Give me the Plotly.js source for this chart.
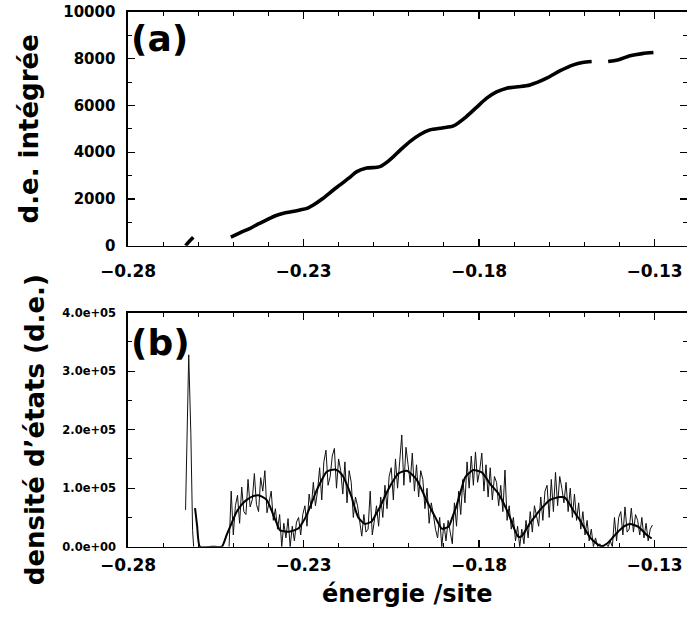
<!DOCTYPE html>
<html><head><meta charset="utf-8">
<script src="https://cdn.plot.ly/plotly-3.0.1.min.js"></script>
<style>html,body{margin:0;padding:0;background:#fff}#chart{width:687px;height:618px}</style>
</head><body><div id="chart"></div>
<script>
// (a) integrated density of states
const energyIntegrated = [-0.2636,-0.2625,-0.2614,-0.2560,-0.2507,-0.2480,-0.2452,-0.2430,-0.2405,-0.2380,-0.2357,-0.2335,-0.2310,-0.2290,-0.2272,-0.2245,-0.2215,-0.2196,-0.2170,-0.2148,-0.2120,-0.2082,-0.2054,-0.2025,-0.1997,-0.1968,-0.1940,-0.1905,-0.1873,-0.1836,-0.1807,-0.1778,-0.1750,-0.1721,-0.1690,-0.1655,-0.1607,-0.1570,-0.1531,-0.1505,-0.1479,-0.1455,-0.1432,-0.1400,-0.1370,-0.1335,-0.1303];
const integratedDos = [0,190,360,null,372,560,745,920,1100,1280,1387,1450,1530,1600,1743,2020,2385,2600,2900,3170,3320,3383,3670,4080,4454,4760,4955,5040,5126,5525,5920,6313,6580,6741,6800,6880,7170,7480,7739,7840,7880,null,7880,7970,8124,8220,8266];

// (b) density of states, smoothed curve
const energySmooth = [-0.2609,-0.2603,-0.2595,-0.2560,-0.2533,-0.2519,-0.2505,-0.2490,-0.2476,-0.2462,-0.2445,-0.2429,-0.2417,-0.2405,-0.2395,-0.2386,-0.2376,-0.2367,-0.2352,-0.2338,-0.2315,-0.2303,-0.2291,-0.2276,-0.2262,-0.2248,-0.2234,-0.2222,-0.2210,-0.2198,-0.2187,-0.2175,-0.2163,-0.2144,-0.2125,-0.2106,-0.2094,-0.2082,-0.2068,-0.2054,-0.2042,-0.2030,-0.2006,-0.1992,-0.1978,-0.1966,-0.1954,-0.1940,-0.1925,-0.1906,-0.1887,-0.1876,-0.1864,-0.1852,-0.1840,-0.1828,-0.1816,-0.1792,-0.1769,-0.1745,-0.1733,-0.1721,-0.1711,-0.1702,-0.1688,-0.1678,-0.1667,-0.1655,-0.1640,-0.1626,-0.1612,-0.1598,-0.1569,-0.1555,-0.1541,-0.1527,-0.1512,-0.1498,-0.1484,-0.1468,-0.1453,-0.1436,-0.1417,-0.1403,-0.1389,-0.1370,-0.1346,-0.1322,-0.1308];
const dosSmooth = [66000,35000,0,0,0,20000,40000,60000,72000,80000,86000,88000,85000,80000,68000,54000,40000,28000,26000,26000,31000,41000,54000,76000,97000,114000,128000,131000,132000,128000,120000,104000,85000,50000,39000,43000,55000,68000,86000,103000,115000,125000,130000,124000,115000,101000,85000,68000,51000,31000,34000,50000,70000,95000,118000,126000,131000,127000,108000,91000,78000,63000,49000,34000,17000,18000,28000,40000,52000,63000,72000,80000,85000,84000,72000,58000,45000,30000,16000,7000,1000,5000,17000,26000,34000,39000,34000,20000,14000];

// (b) density of states, raw histogram
const energyRaw = [-0.2636,-0.2627,-0.2621,-0.2616,-0.2613,-0.2600,
-0.2512,-0.2506,-0.2500,-0.2494,-0.2488,-0.2482,-0.2476,-0.2470,-0.2464,-0.2458,
-0.2452,-0.2446,-0.2440,-0.2434,-0.2428,-0.2422,-0.2416,-0.2410,-0.2404,-0.2398,
-0.2392,-0.2386,-0.2380,-0.2374,-0.2368,-0.2362,-0.2356,-0.2350,-0.2344,-0.2338,
-0.2332,-0.2326,-0.2320,-0.2314,-0.2308,-0.2302,-0.2296,-0.2290,-0.2284,-0.2278,
-0.2272,-0.2266,-0.2260,-0.2254,-0.2248,-0.2242,-0.2236,-0.2230,-0.2224,-0.2218,
-0.2212,-0.2206,-0.2200,-0.2194,-0.2188,-0.2182,-0.2176,-0.2170,-0.2164,-0.2158,
-0.2152,-0.2146,-0.2140,-0.2134,-0.2128,-0.2122,-0.2116,-0.2110,-0.2104,-0.2098,
-0.2092,-0.2086,-0.2080,-0.2074,-0.2068,-0.2062,-0.2056,-0.2050,-0.2044,-0.2038,
-0.2032,-0.2026,-0.2020,-0.2014,-0.2008,-0.2002,-0.1996,-0.1990,-0.1984,-0.1978,
-0.1972,-0.1966,-0.1960,-0.1954,-0.1948,-0.1942,-0.1936,-0.1930,-0.1924,-0.1918,
-0.1912,-0.1906,-0.1900,-0.1894,-0.1888,-0.1882,-0.1876,-0.1870,-0.1864,-0.1858,
-0.1852,-0.1846,-0.1840,-0.1834,-0.1828,-0.1822,-0.1816,-0.1810,-0.1804,-0.1798,
-0.1792,-0.1786,-0.1780,-0.1774,-0.1768,-0.1762,-0.1756,-0.1750,-0.1744,-0.1738,
-0.1732,-0.1726,-0.1720,-0.1714,-0.1708,-0.1702,-0.1696,-0.1690,-0.1684,-0.1678,
-0.1672,-0.1666,-0.1660,-0.1654,-0.1648,-0.1642,-0.1636,-0.1630,-0.1624,-0.1618,
-0.1612,-0.1606,-0.1600,-0.1594,-0.1588,-0.1582,-0.1576,-0.1570,-0.1564,-0.1558,
-0.1552,-0.1546,-0.1540,-0.1534,-0.1528,-0.1522,-0.1516,-0.1510,-0.1504,-0.1498,
-0.1492,-0.1486,-0.1480,-0.1474,-0.1468,-0.1462,-0.1456,-0.1450,-0.1444,-0.1438,
-0.1432,-0.1426,-0.1420,-0.1414,-0.1408,-0.1402,-0.1396,-0.1390,-0.1384,-0.1378,
-0.1372,-0.1366,-0.1360,-0.1354,-0.1348,-0.1342,-0.1336,-0.1330,-0.1324,-0.1318,
-0.1312,-0.1306];
const dosRaw = [63000,328000,194000,28000,0,null,
0,95000,20000,70000,88000,40000,102000,60000,55000,115000,
68000,80000,125000,72000,60000,118000,95000,130000,58000,
78000,95000,45000,65000,30000,55000,0,40000,15000,48000,0,
35000,10000,42000,50000,20000,55000,70000,35000,90000,65000,
110000,70000,95000,135000,80000,145000,165000,105000,120000,155000,
168000,100000,150000,130000,90000,145000,75000,130000,110000,50000,
85000,70000,40000,18000,55000,25000,30000,95000,20000,50000,70000,35000,
85000,50000,105000,65000,120000,135000,80000,150000,100000,145000,
191000,105000,170000,140000,110000,160000,95000,140000,85000,130000,
115000,65000,100000,40000,75000,55000,30000,15000,
50000,0,40000,10000,45000,25000,5000,75000,35000,95000,
55000,115000,75000,145000,100000,155000,105000,162000,110000,130000,
160000,95000,140000,85000,135000,80000,120000,110000,70000,105000,60000,131000,
45000,70000,30000,50000,10000,35000,0,30000,5000,45000,15000,
60000,25000,70000,55000,35000,85000,45000,95000,105000,50000,
115000,60000,127000,70000,120000,100000,75000,110000,60000,100000,
50000,90000,45000,75000,30000,60000,20000,
45000,10000,30000,0,15000,0,5000,0,0,5000,0,10000,
0,50000,10000,50000,60000,20000,68000,25000,30000,66000,
25000,55000,45000,20000,50000,15000,40000,10000,30000,37000];

// ticks
const xTickVals = [-0.28,-0.23,-0.18,-0.13];
const xTickText = ['\u22120.28','\u22120.23','\u22120.18','\u22120.13'];
const yTopTickVals = [0,2000,4000,6000,8000,10000];
const yTopTickText = ['0','2000','4000','6000','8000','10000'];
const yBotTickVals = [0,100000,200000,300000,400000];
const yBotTickText = ['0.0e+00','1.0e+05','2.0e+05','3.0e+05','4.0e+05'];

const FONT = 'DejaVu Sans, Liberation Sans, sans-serif';

const traces = [
  {x: energyIntegrated, y: integratedDos, xaxis:'x', yaxis:'y', type:'scatter', mode:'lines',
   line:{color:'#000', width:3.6, shape:'spline', smoothing:0.8}, connectgaps:false, hoverinfo:'skip'},
  {x: energyRaw, y: dosRaw, xaxis:'x2', yaxis:'y2', type:'scatter', mode:'lines',
   line:{color:'#111', width:1}, connectgaps:false, hoverinfo:'skip'},
  {x: energySmooth, y: dosSmooth, xaxis:'x2', yaxis:'y2', type:'scatter', mode:'lines',
   line:{color:'#000', width:2, shape:'spline', smoothing:0.6}, hoverinfo:'skip'}
];

const base = {
  showline:true, linecolor:'#000', linewidth:1.6, mirror:'allticks',
  ticks:'inside', ticklen:7, tickwidth:1.2, tickcolor:'#000',
  showgrid:false, zeroline:false, fixedrange:true
};
const xDomain = [128/687, 686.5/687];
const xAx = (anchor, standoff, extra) => Object.assign({}, base, {
  domain:xDomain, range:[-0.28,-0.12088], anchor:anchor,
  tickmode:'array', tickvals:xTickVals, ticktext:xTickText,
  tickfont:{family:FONT, size:17, weight:'bold', color:'#000'},
  ticklabelstandoff:standoff,
  minor:{tickmode:'linear', tick0:-0.28, dtick:0.01, ticklen:4, tickwidth:1, tickcolor:'#000', ticks:'inside'}
}, extra||{});

const layout = {
  width:687, height:618, margin:{l:0,r:0,t:0,b:0},
  paper_bgcolor:'#fff', plot_bgcolor:'#fff', showlegend:false,
  font:{family:FONT, color:'#000'},
  xaxis: xAx('y', 9),
  yaxis: Object.assign({}, base, {
    domain:[1-245.7/618, 1-12/618], range:[0,10000], anchor:'x',
    tickmode:'array', tickvals:yTopTickVals, ticktext:yTopTickText,
    tickfont:{family:FONT, size:15, weight:'bold', color:'#000'},
    ticklabelstandoff:8,
    minor:{tickmode:'linear', tick0:0, dtick:1000, ticklen:4, tickwidth:1, tickcolor:'#000', ticks:'inside'},
    title:{text:'d.e. intégrée', font:{family:FONT, size:26, weight:'bold', color:'#000'}, standoff:17}
  }),
  xaxis2: xAx('y2', 2, {
    title:{text:'énergie /site', font:{family:FONT, size:24, weight:'bold', color:'#000'}, standoff:11}
  }),
  yaxis2: Object.assign({}, base, {
    domain:[1-546.7/618, 1-312.7/618], range:[0,400000], anchor:'x2',
    tickmode:'array', tickvals:yBotTickVals, ticktext:yBotTickText,
    tickfont:{family:FONT, size:11.5, weight:'bold', color:'#000'},
    ticklabelstandoff:8,
    minor:{tickmode:'linear', tick0:0, dtick:50000, ticklen:4, tickwidth:1, tickcolor:'#000', ticks:'inside'},
    title:{text:'densité d\u2019états (d.e.)', font:{family:FONT, size:26, weight:'bold', color:'#000'}, standoff:10}
  }),
  annotations:[
    {text:'(a)', xref:'paper', yref:'paper', x:129/687, y:1-38/618, xanchor:'left', yanchor:'middle', showarrow:false,
     font:{family:FONT, size:36, weight:'bold', color:'#000'}},
    {text:'(b)', xref:'paper', yref:'paper', x:129/687, y:1-342.5/618, xanchor:'left', yanchor:'middle', showarrow:false,
     font:{family:FONT, size:36, weight:'bold', color:'#000'}}
  ]
};

Plotly.newPlot('chart', traces, layout, {staticPlot:true, displayModeBar:false});
</script>
</body></html>
